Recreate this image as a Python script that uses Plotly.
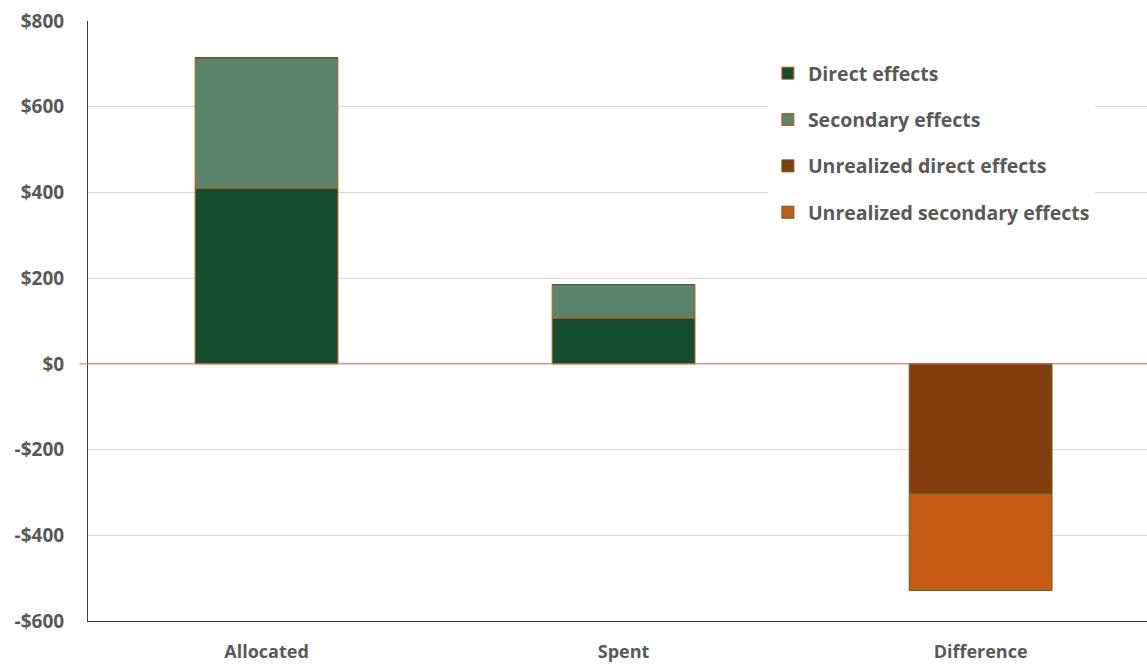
import plotly.graph_objects as go

# Budget categories and stacked components (millions of dollars)
categories = ["Allocated", "Spent", "Difference"]
direct_effects = [410, 107, 0]
secondary_effects = [304, 78, 0]
unrealized_direct = [0, 0, -303]
unrealized_secondary = [0, 0, -226]

y_ticks = [-600, -400, -200, 0, 200, 400, 600, 800]
y_tick_text = ["-$600", "-$400", "-$200", "$0", "$200", "$400", "$600", "$800"]

series = [
    ("Direct effects", direct_effects, "#134E30", "#C55A11"),
    ("Secondary effects", secondary_effects, "#5A846C", "#C55A11"),
    ("Unrealized direct effects", unrealized_direct, "#843C0C", "#4E6A2A"),
    ("Unrealized secondary effects", unrealized_secondary, "#C55A11", "#4E6A2A"),
]

FONT = "Open Sans"
TEXT_COLOR = "#595959"
ZERO_COLOR = "#E06666"

fig = go.Figure()
for name, values, fill, edge in series:
    fig.add_trace(go.Bar(
        x=categories, y=values, name=name, legendgroup=name,
        marker=dict(color=fill, line=dict(color=edge, width=1)),
    ))

fig.update_layout(
    barmode="relative",
    bargap=0.6,
    width=1147, height=664,
    margin=dict(l=88, r=0, t=21, b=43),
    plot_bgcolor="white", paper_bgcolor="white",
    font=dict(family=FONT, color=TEXT_COLOR, size=18),
    showlegend=True,
    legend=dict(
        x=0.642, y=0.945, xanchor="left", yanchor="top",
        bgcolor="white", traceorder="grouped", tracegroupgap=18,
        font=dict(family=FONT, size=19.5, color=TEXT_COLOR, weight="bold"),
        itemwidth=30,
    ),
)

fig.update_xaxes(
    range=[-0.5, 2.466],
    showgrid=False, zeroline=False,
    showline=True, linecolor="#404040", linewidth=1,
    tickfont=dict(family=FONT, size=18, color=TEXT_COLOR, weight="bold"),
    ticks="", ticklabelstandoff=14,
)

fig.update_yaxes(
    range=[-600, 800],
    tickvals=y_ticks, ticktext=y_tick_text,
    showgrid=True, gridcolor="#D9D9D9", gridwidth=1,
    zeroline=False,
    showline=True, linecolor="#404040", linewidth=1,
    tickfont=dict(family=FONT, size=19, color=TEXT_COLOR, weight="bold"),
    ticks="", ticklabelstandoff=19,
)

# Category axis baseline at zero, reaching slightly past the value axis
fig.add_shape(type="line", xref="paper", yref="y", layer="above",
              x0=-0.008, x1=1, y0=0, y1=0,
              line=dict(color=ZERO_COLOR, width=1))

fig.write_html("out.html")
